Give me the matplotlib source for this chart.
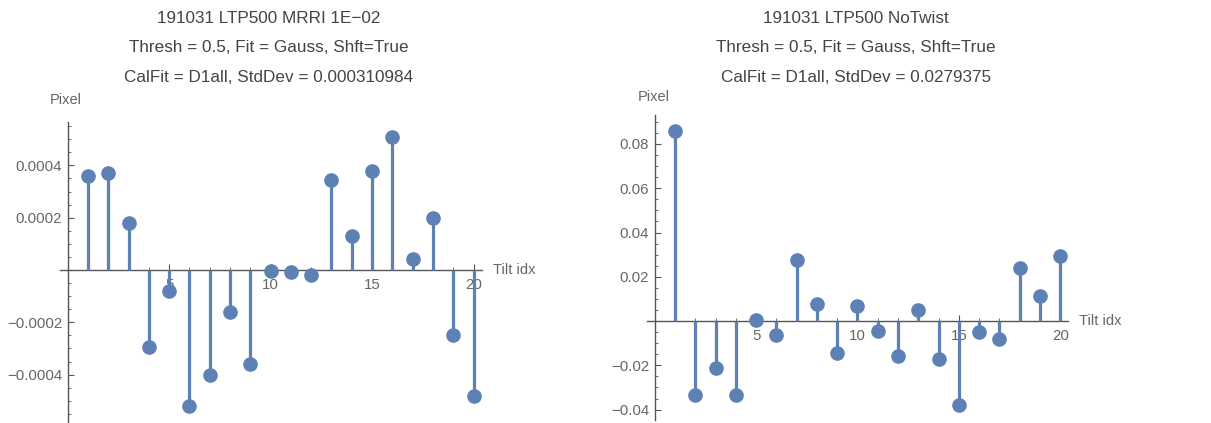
import matplotlib
matplotlib.use("Agg")
import matplotlib.pyplot as plt
from matplotlib.ticker import MultipleLocator, FixedLocator
import numpy as np

plt.rcParams['font.family'] = ['Liberation Sans', 'DejaVu Sans']

tilt_idx = list(range(1, 21))

mrri_vals = [0.00036, 0.00037, 0.00018, -0.000295, -0.000082, -0.00052, -0.000403,
             -0.00016, -0.00036, -0.000003, -0.000008, -0.000019, 0.000343, 0.00013,
             0.00038, 0.00051, 0.000041, 0.0002, -0.000248, -0.00048]

notwist_vals = [0.086, -0.0336, -0.0212, -0.0336, 0.0005, -0.0063, 0.0277, 0.0078,
                -0.0143, 0.0068, -0.0044, -0.0158, 0.0051, -0.0173, -0.038, -0.0051,
                -0.0083, 0.0239, 0.0111, 0.0294]

left_titles = ["191031 LTP500 MRRI 1E\u221202",
               "Thresh = 0.5, Fit = Gauss, Shft=True",
               "CalFit = D1all, StdDev = 0.000310984"]
right_titles = ["191031 LTP500 NoTwist",
                "Thresh = 0.5, Fit = Gauss, Shft=True",
                "CalFit = D1all, StdDev = 0.0279375"]

left_yticks = [-0.0004, -0.0002, 0.0002, 0.0004]
left_yticklabels = ["\u22120.0004", "\u22120.0002", "0.0002", "0.0004"]
right_yticks = [-0.04, -0.02, 0.02, 0.04, 0.06, 0.08]
right_yticklabels = ["\u22120.04", "\u22120.02", "0.02", "0.04", "0.06", "0.08"]
xticks = [5, 10, 15, 20]

W, H = 1211, 423
fig = plt.figure(figsize=(W / 100, H / 100), dpi=100)
fig.patch.set_facecolor('white')

stem_color = '#5E81B5'
axis_color = '#555555'
text_color = '#444444'
tick_color = '#666666'


def make_axes(x_left_px, x_right_px, y_top_px, y_bot_px):
    return fig.add_axes([x_left_px / W, 1 - y_bot_px / H,
                         (x_right_px - x_left_px) / W, (y_bot_px - y_top_px) / H])


def draw_panel(ax, xs, ys, ylim, yticks, yticklabels, yminor):
    ax.set_xlim(-0.4, 20.4)
    ax.set_ylim(*ylim)
    ax.vlines(xs, 0, ys, color=stem_color, lw=2.3, zorder=2)
    ax.plot(xs, ys, 'o', color=stem_color, ms=9.5, zorder=3)
    for s in ['top', 'right']:
        ax.spines[s].set_visible(False)
    ax.spines['left'].set_position(('data', 0))
    ax.spines['bottom'].set_position(('data', 0))
    for s in ['left', 'bottom']:
        ax.spines[s].set_color(axis_color)
        ax.spines[s].set_linewidth(1.0)
        ax.spines[s].set_zorder(1)
    ax.set_facecolor('none')
    ax.xaxis.set_major_locator(FixedLocator(xticks))
    ax.xaxis.set_minor_locator(MultipleLocator(1))
    ax.set_xticklabels([str(t) for t in xticks])
    ax.yaxis.set_major_locator(FixedLocator(yticks))
    ax.yaxis.set_minor_locator(MultipleLocator(yminor))
    ax.set_yticklabels(yticklabels)
    ax.tick_params(axis='x', which='both', direction='in', colors=axis_color,
                   labelcolor=tick_color, labelsize=10.8, pad=6)
    ax.tick_params(axis='y', which='both', direction='in', colors=axis_color,
                   labelcolor=tick_color, labelsize=10.8, pad=4)
    ax.tick_params(which='major', length=4.5, width=0.8)
    ax.tick_params(which='minor', length=2.5, width=0.6)


# Left panel
axL = make_axes(59.5, 481.7, 121.7, 423)
draw_panel(axL, tilt_idx, mrri_vals, (-0.000585, 0.000567),
           left_yticks, left_yticklabels, 0.00005)

# Right panel
axR = make_axes(646.6, 1068.3, 115, 420)
draw_panel(axR, tilt_idx, notwist_vals, (-0.0447, 0.0931),
           right_yticks, right_yticklabels, 0.005)

# Titles
for cx, lines in [(269, left_titles), (855.8, right_titles)]:
    for i, line in enumerate(lines):
        fig.text(cx / W, 1 - (18.5 + 29.5 * i) / H, line, ha='center', va='center',
                 fontsize=12.3, color=text_color)

# Axis labels
fig.text(66 / W, 1 - 100 / H, "Pixel", ha='center', va='center', fontsize=10.5,
         color=tick_color)
fig.text(653.8 / W, 1 - 96.7 / H, "Pixel", ha='center', va='center', fontsize=10.5,
         color=tick_color)
fig.text(492.7 / W, 1 - 270 / H, "Tilt idx", ha='left', va='center', fontsize=10.5,
         color=tick_color)
fig.text(1079 / W, 1 - 321 / H, "Tilt idx", ha='left', va='center', fontsize=10.5,
         color=tick_color)

fig.savefig('out.png', dpi=100, facecolor='white')
